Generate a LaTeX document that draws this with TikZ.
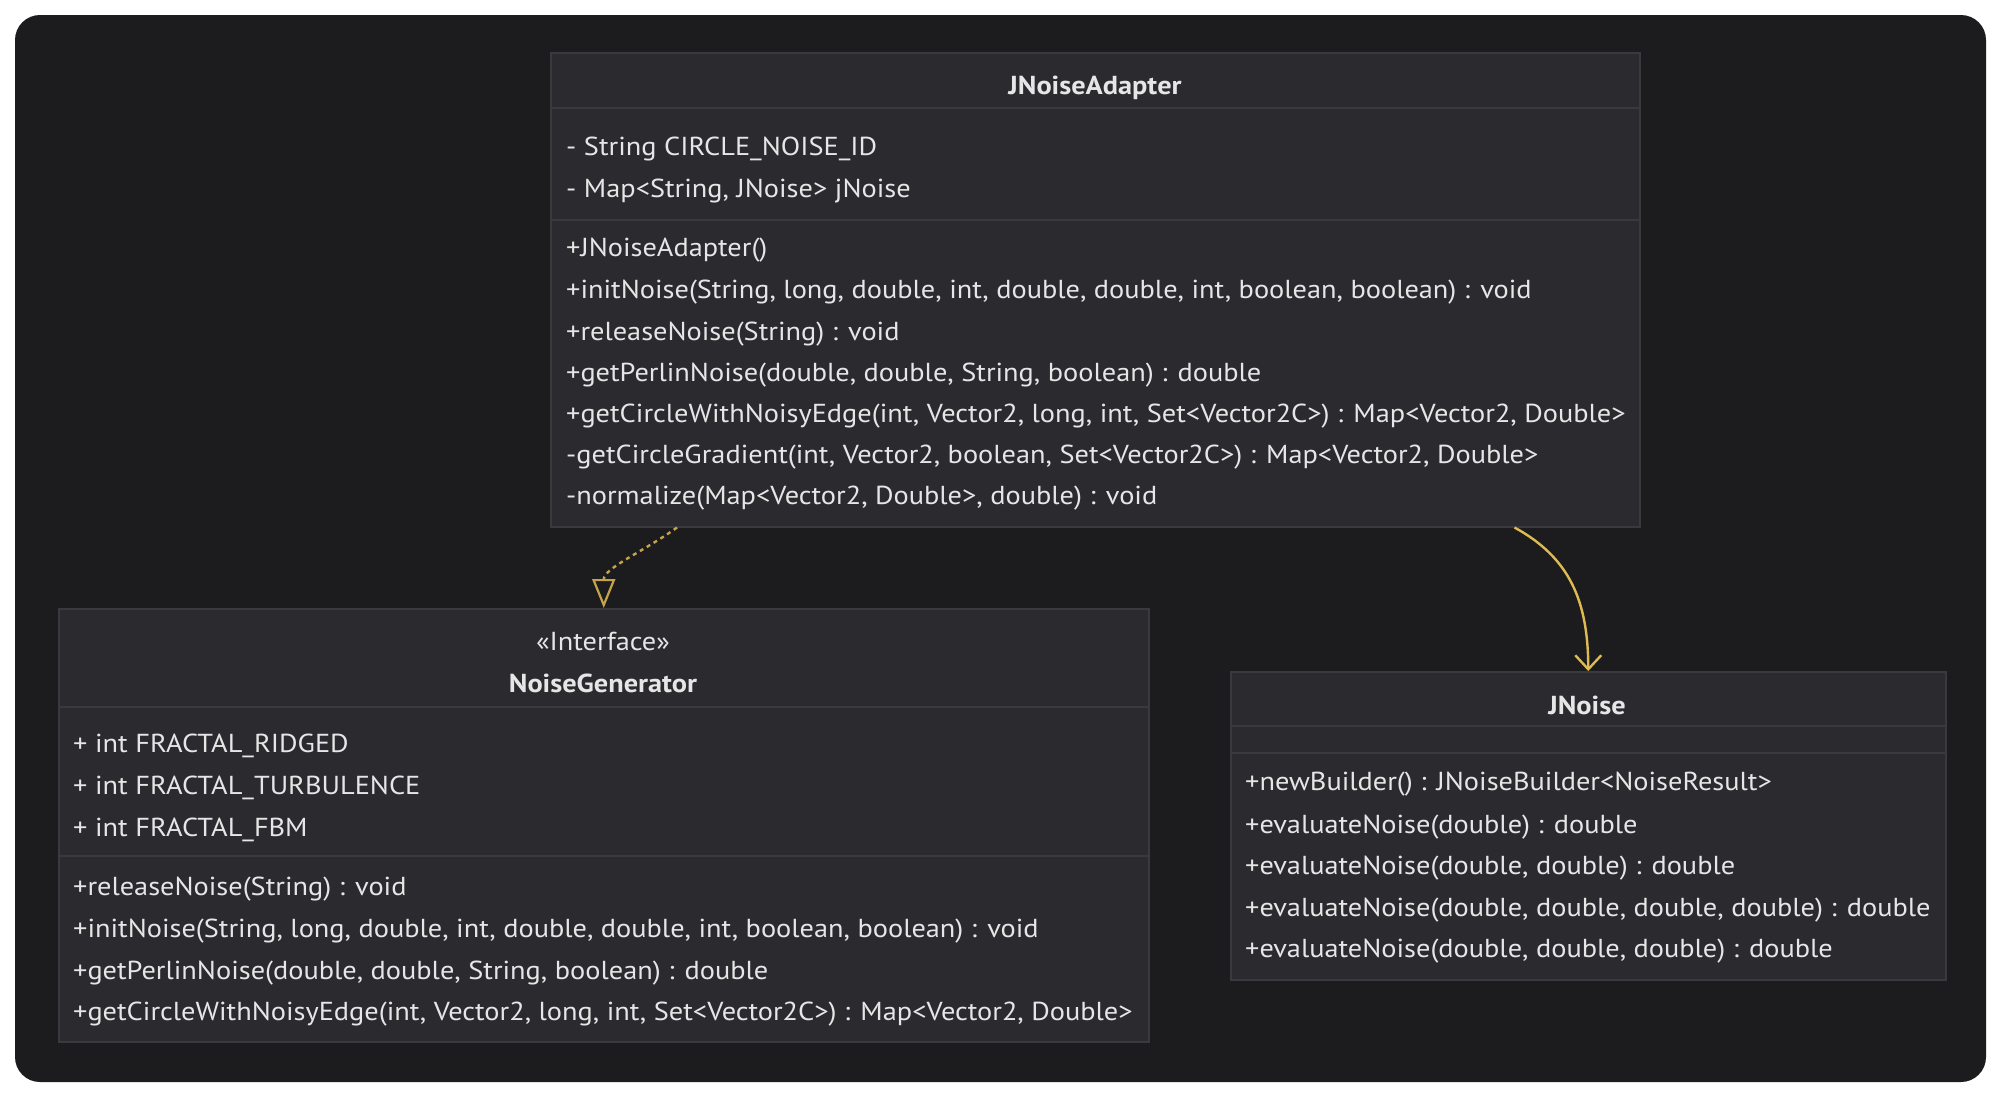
\documentclass[tikz,border=0pt]{standalone}
\usepackage{fontspec}
\setmainfont{PT Sans}[FakeStretch=1.09]
\usetikzlibrary{arrows.meta}
\definecolor{canvas}{HTML}{1C1C1E}
\definecolor{boxfill}{HTML}{2B2A2E}
\definecolor{boxline}{HTML}{3A393E}
\definecolor{txt}{HTML}{E6E6E6}
\definecolor{arrowA}{HTML}{C4A44A}
\definecolor{arrowB}{HTML}{DDBB52}
\begin{document}
\begin{tikzpicture}[x=1pt,y=-1pt,
  classbox/.style={draw=boxline, fill=boxfill, line width=1.5pt, inner sep=0pt, anchor=north west},
  member/.style={anchor=base west, inner sep=0pt, text=txt, font=\fontsize{26}{30}\selectfont},
  title/.style={anchor=base, inner sep=0pt, text=txt, font=\fontsize{26}{30}\selectfont\bfseries},
  sep/.style={draw=boxline, line width=1.5pt}]
\useasboundingbox (0,0) rectangle (2000,1096);
\fill[white] (0,0) rectangle (2000,1096);
\fill[canvas, rounded corners=25pt] (15,15) rectangle (1986,1082);

% ---- JNoiseAdapter
\node[classbox, minimum width=1089pt, minimum height=474pt] (adapter) at (550,52) {};
\draw[sep] (adapter.west |- 0,108) -- (adapter.east |- 0,108);
\draw[sep] (adapter.west |- 0,220) -- (adapter.east |- 0,220);
\node[title] (adT) at (1095,94) {JNoiseAdapter};
\node[member] (ad1) at (566,155) {- String CIRCLE\_NOISE\_ID};
\node[member] (ad2) at (566,197) {- Map<String, JNoise> jNoise};
\node[member] (am1) at (566,256) {+JNoiseAdapter()};
\node[member] (am2) at (566,298) {+initNoise(String, long, double, int, double, double, int, boolean, boolean) : void};
\node[member] (am3) at (566,340) {+releaseNoise(String) : void};
\node[member] (am4) at (566,381) {+getPerlinNoise(double, double, String, boolean) : double};
\node[member] (am5) at (566,422) {+getCircleWithNoisyEdge(int, Vector2, long, int, Set<Vector2C>) : Map<Vector2, Double>};
\node[member] (am6) at (566,463) {-getCircleGradient(int, Vector2, boolean, Set<Vector2C>) : Map<Vector2, Double>};
\node[member] (am7) at (566,504) {-normalize(Map<Vector2, Double>, double) : void};

% ---- NoiseGenerator
\node[classbox, minimum width=1090pt, minimum height=433pt] (gen) at (58,608) {};
\draw[sep] (gen.west |- 0,707) -- (gen.east |- 0,707);
\draw[sep] (gen.west |- 0,856) -- (gen.east |- 0,856);
\node[title, font=\fontsize{26}{30}\selectfont] (gS) at (603,650) {«Interface»};
\node[title] (gT) at (603,692) {NoiseGenerator};
\node[member] (g1) at (73,752) {+ int FRACTAL\_RIDGED};
\node[member] (g2) at (73,794) {+ int FRACTAL\_TURBULENCE};
\node[member] (g3) at (73,836) {+ int FRACTAL\_FBM};
\node[member] (gm1) at (73,895) {+releaseNoise(String) : void};
\node[member] (gm2) at (73,937) {+initNoise(String, long, double, int, double, double, int, boolean, boolean) : void};
\node[member] (gm3) at (73,979) {+getPerlinNoise(double, double, String, boolean) : double};
\node[member] (gm4) at (73,1020) {+getCircleWithNoisyEdge(int, Vector2, long, int, Set<Vector2C>) : Map<Vector2, Double>};

% ---- JNoise
\node[classbox, minimum width=715pt, minimum height=308pt] (jnoise) at (1230,671) {};
\draw[sep] (jnoise.west |- 0,726) -- (jnoise.east |- 0,726);
\draw[sep] (jnoise.west |- 0,753) -- (jnoise.east |- 0,753);
\node[title] (jT) at (1587,714) {JNoise};
\node[member] (jm1) at (1245,790) {+newBuilder() : JNoiseBuilder<NoiseResult>};
\node[member] (jm2) at (1245,833) {+evaluateNoise(double) : double};
\node[member] (jm3) at (1245,874) {+evaluateNoise(double, double) : double};
\node[member] (jm4) at (1245,916) {+evaluateNoise(double, double, double, double) : double};
\node[member] (jm5) at (1245,957) {+evaluateNoise(double, double, double) : double};

% ---- connectors
\draw[arrowA, line width=2.4pt, dash pattern=on 4pt off 4pt,
      -{Triangle[open, length=29pt, width=23pt, line width=2.2pt]}]
  ([xshift=127pt]adapter.south west) .. controls +(-35,25) and +(0,-40) .. (gen.north);
\draw[arrowB, line width=2.4pt,
      -{Straight Barb[length=14pt, width=26pt, line width=2.4pt]}]
  ([xshift=-126pt]adapter.south east) .. controls +(55,30) and +(0,-70) .. (jnoise.north);
\end{tikzpicture}
\end{document}
